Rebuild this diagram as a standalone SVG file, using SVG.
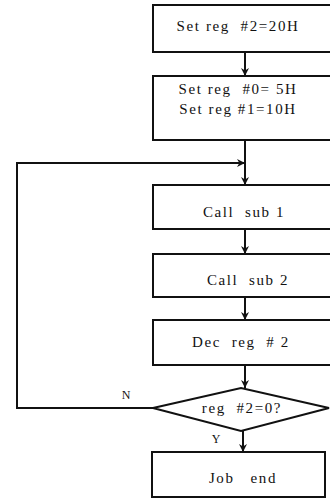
<svg xmlns="http://www.w3.org/2000/svg" width="330" height="501" viewBox="0 0 330 501">
<style>
.box{fill:#fff;stroke:#111;stroke-width:2}
.t{font-family:"Liberation Serif","DejaVu Serif",serif;font-size:15px;letter-spacing:1.6px;fill:#111;text-anchor:middle;white-space:pre}
.l{font-family:"Liberation Serif","DejaVu Serif",serif;font-size:12px;fill:#111;text-anchor:middle}
.c{fill:none;stroke:#111;stroke-width:2}
</style>
<defs>
<marker id="ah" viewBox="0 0 10 10" refX="10" refY="5" markerWidth="8" markerHeight="8" orient="auto" markerUnits="userSpaceOnUse">
<path d="M0,0 L10,5 L0,10 L3,5 Z" fill="#111"/>
</marker>
</defs>
<rect width="330" height="501" fill="#fff"/>
<g id="connectors">
<line class="c" x1="245" y1="52" x2="245" y2="76" marker-end="url(#ah)"/>
<line class="c" x1="245" y1="140" x2="245" y2="185" marker-end="url(#ah)"/>
<line class="c" x1="245" y1="229" x2="245" y2="254" marker-end="url(#ah)"/>
<line class="c" x1="245" y1="297" x2="245" y2="320" marker-end="url(#ah)"/>
<line class="c" x1="245" y1="365" x2="245" y2="388" marker-end="url(#ah)"/>
<line class="c" x1="243" y1="431" x2="243" y2="452" marker-end="url(#ah)"/>
<polyline class="c" points="153,408 17,408 17,163 245,163" marker-end="url(#ah)"/>
<text class="l" x="126" y="399">N</text>
<text class="l" x="216" y="443">Y</text>
</g>
<g id="n1">
<rect class="box" x="153" y="5" width="184" height="47"/>
<text class="t" x="238" y="31" xml:space="preserve">Set reg  #2=20H</text>
</g>
<g id="n2">
<rect class="box" x="153" y="76" width="184" height="64"/>
<text class="t" x="238" y="94" xml:space="preserve">Set reg  #0= 5H</text>
<text class="t" x="238" y="114" xml:space="preserve">Set reg #1=10H</text>
</g>
<g id="n3">
<rect class="box" x="153" y="185" width="184" height="44"/>
<text class="t" x="244" y="217" xml:space="preserve">Call  sub 1</text>
</g>
<g id="n4">
<rect class="box" x="153" y="254" width="184" height="43"/>
<text class="t" x="248" y="285" xml:space="preserve">Call  sub 2</text>
</g>
<g id="n5">
<rect class="box" x="153" y="320" width="184" height="45"/>
<text class="t" x="241" y="347" xml:space="preserve">Dec  reg  # 2</text>
</g>
<g id="n6">
<polygon class="box" points="153,408 241,388 329,408 241,431"/>
<text class="t" x="242" y="413" xml:space="preserve">reg  #2=0?</text>
</g>
<g id="n7">
<rect class="box" x="152" y="452" width="173" height="45"/>
<text class="t" x="243" y="483" xml:space="preserve">Job   end</text>
</g>
</svg>
